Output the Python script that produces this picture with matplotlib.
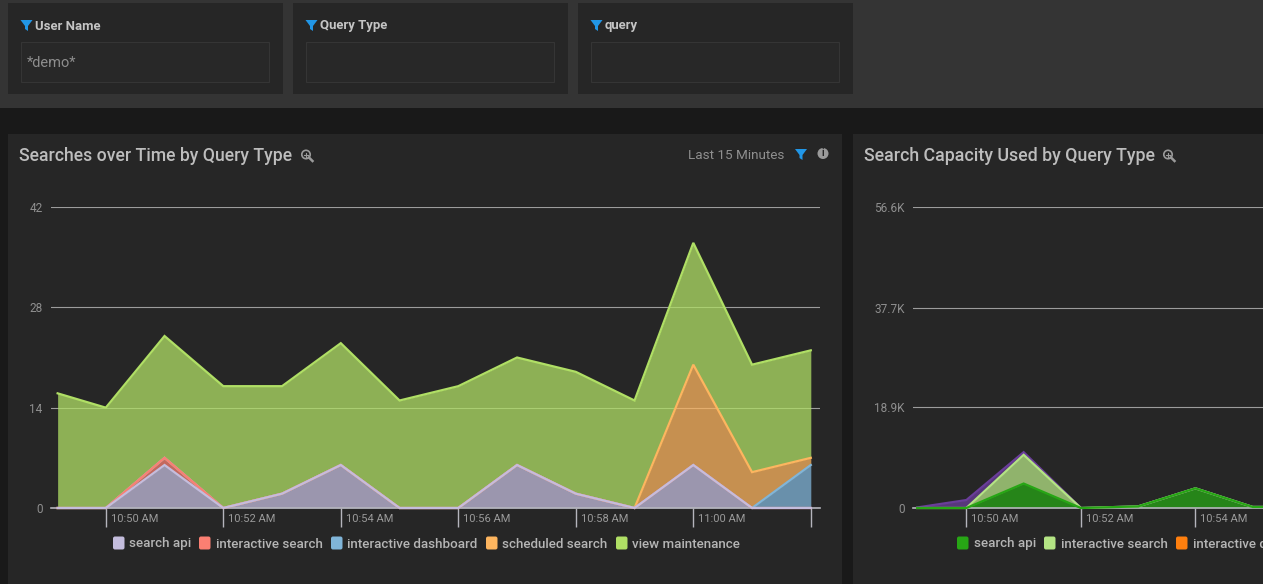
import matplotlib
matplotlib.use('Agg')
import matplotlib.pyplot as plt
from matplotlib.patches import Rectangle, FancyBboxPatch, Polygon, Circle
import numpy as np

plt.rcParams['font.family'] = ['Roboto', 'DejaVu Sans']

# minutes after 10:50
minutes = [-0.82, 0, 1, 2, 3, 4, 5, 6, 7, 8, 9, 10, 11, 12]
search_api = [0, 0, 6, 0, 2, 6, 0, 0, 6, 2, 0, 6, 0, 0]
interactive_search = [0, 0, 1, 0, 0, 0, 0, 0, 0, 0, 0, 0, 0, 0]
interactive_dashboard = [0, 0, 0, 0, 0, 0, 0, 0, 0, 0, 0, 0, 0, 6]
scheduled_search = [0, 0, 0, 0, 0, 0, 0, 0, 0, 0, 0, 14, 5, 1]
view_maintenance = [16, 14, 17, 17, 15, 17, 15, 17, 15, 17, 15, 17, 15, 15]
left_names = ['search api', 'interactive search', 'interactive dashboard', 'scheduled search', 'view maintenance']
left_colors = ['#c4bddd', '#fb7f72', '#80b5d9', '#fdb55f', '#b0df65']
left_yticks = [0, 14, 28, 42]
left_xticks = [0, 2, 4, 6, 8, 10, 12]
left_xlabels = ['10:50 AM', '10:52 AM', '10:54 AM', '10:56 AM', '10:58 AM', '11:00 AM', '']

cap_minutes = [-0.86, 0, 1, 2, 3, 4, 5, 6]
cap_search_api = [0, 0, 4600, 0, 300, 3700, 200, 200]
cap_interactive_search = [0, 0, 5400, 0, 0, 0, 0, 0]
cap_other = [100, 1500, 500, 0, 0, 0, 0, 0]
right_names = ['search api', 'interactive search', 'interactive dashboard']
right_colors = ['#27a615', '#b4e484', '#ff7f0e', '#6a3d9a']
right_yticks = [0, 18900, 37700, 56600]
right_ylabels = ['0', '18.9K', '37.7K', '56.6K']
right_xticks = [0, 2, 4]
right_xlabels = ['10:50 AM', '10:52 AM', '10:54 AM']

W, H = 1263, 584
DARK = '#191919'
PANEL = '#262626'
BLUE = '#2196e6'

fig = plt.figure(figsize=(W / 100, H / 100), dpi=100, facecolor=DARK)
bg = fig.add_axes([0, 0, 1, 1], zorder=0)
bg.set_xlim(0, W)
bg.set_ylim(H, 0)
bg.axis('off')


def funnel(x, y, s=1.0):
    pts = [(x, y), (x + 12 * s, y), (x + 7.5 * s, y + 6 * s), (x + 7.5 * s, y + 11 * s),
           (x + 4.5 * s, y + 9 * s), (x + 4.5 * s, y + 6 * s)]
    bg.add_patch(Polygon(pts, closed=True, color=BLUE, lw=0))


def zoom_icon(x, y):
    bg.add_patch(Circle((x, y), 4.2, fill=False, ec='#9a9a9a', lw=1.2))
    bg.plot([x + 3, x + 6.5], [y + 3, y + 6.5], color='#9a9a9a', lw=1.8)
    bg.plot([x - 2, x + 2], [y, y], color='#9a9a9a', lw=0.8)
    bg.plot([x, x], [y - 2, y + 2], color='#9a9a9a', lw=0.8)


# top filter strip
bg.add_patch(Rectangle((0, 0), W, 108, color='#343434', lw=0))
for x0, label in [(8, 'User Name'), (293, 'Query Type'), (578, 'query')]:
    bg.add_patch(Rectangle((x0, 3), 275, 91, color=PANEL, lw=0))
    bg.add_patch(Rectangle((x0 + 13, 42), 248, 40, fc='#282828', ec='#353535', lw=0.8))
    funnel(x0 + 12.5, 20)
    bg.text(x0 + 27, 26, label, color='#c4c4c4', fontsize=9.45, fontweight='bold', va='center')
bg.text(27, 63, '*demo*', color='#8e8e8e', fontsize=10.5, va='center')

# chart panels
bg.add_patch(Rectangle((8, 134), 834, 450, color=PANEL, lw=0))
bg.add_patch(Rectangle((853, 134), 410, 450, color=PANEL, lw=0))
bg.text(19, 156, 'Searches over Time by Query Type', color='#bdbdbd', fontsize=12.7, fontweight='medium', va='center')
zoom_icon(306, 154.5)
bg.text(864, 156, 'Search Capacity Used by Query Type', color='#bdbdbd', fontsize=12.75, fontweight='medium', va='center')
zoom_icon(1168, 154.5)
bg.text(688, 155.5, 'Last 15 Minutes', color='#8f8f8f', fontsize=9.7, va='center')
funnel(795, 149)
bg.add_patch(Circle((823, 153.5), 5.5, color='#9a9a9a', lw=0))
bg.text(823, 153.5, 'i', color=PANEL, fontsize=7, fontweight='bold', ha='center', va='center')


def make_axes(x0, x1, px_per_min, zero_px):
    ax = fig.add_axes([x0 / W, (H - 508) / H, (x1 - x0) / W, 301 / H], zorder=1)
    ax.patch.set_alpha(0)
    ax.set_xlim((x0 - zero_px) / px_per_min, (x1 - zero_px) / px_per_min)
    for s in ['top', 'left', 'right']:
        ax.spines[s].set_visible(False)
    ax.spines['bottom'].set_color('#b5b5bd')
    ax.spines['bottom'].set_linewidth(1.2)
    ax.spines['bottom'].set_zorder(2.5)
    ax.grid(axis='y', color='#9c9c9c', lw=0.8, zorder=0)
    ax.set_axisbelow(True)
    ax.tick_params(axis='y', length=0, pad=6, labelsize=8.5, labelcolor='#8f8f8f')
    ax.tick_params(axis='x', length=13.5, width=1, color='#b5b5bd', pad=-9.5,
                   labelsize=8.0, labelcolor='#9a9a9a')
    return ax


def draw_stack(ax, x, series, colors):
    bottom = np.zeros(len(x))
    count = len(series)
    for i, (values, color) in enumerate(zip(series, colors)):
        top = bottom + np.array(values, dtype=float)
        ax.fill_between(x, bottom, top, color=color, alpha=0.75, lw=0, zorder=2)
        # lower series drawn last so their lines stay on top where others are zero
        ax.plot(x, top, color=color, lw=1.6, zorder=3 + count - i, solid_joinstyle='miter', clip_on=False)
        bottom = top


def shift_labels(ax, dx_px):
    for lab in ax.get_xticklabels():
        lab.set_ha('left')
        lab.set_transform(lab.get_transform() + matplotlib.transforms.ScaledTranslation(dx_px / 100, 0, fig.dpi_scale_trans))


def draw_legend(names, colors, swatch_x, text_x):
    for name, color, sx, tx in zip(names, colors, swatch_x, text_x):
        bg.add_patch(FancyBboxPatch((sx + 2, 538.5), 7.5, 9, boxstyle='round,pad=2', fc=color, ec='none'))
        bg.text(tx, 544, name, color='#b5b5b5', fontsize=9.6, fontweight='medium', va='center')


left = make_axes(51, 820, 58.75, 105.8)
draw_stack(left, minutes, [search_api, interactive_search, interactive_dashboard, scheduled_search, view_maintenance], left_colors)
left.set_ylim(0, 42)
left.set_yticks(left_yticks)
left.set_xticks(left_xticks)
left.set_xticklabels(left_xlabels)
shift_labels(left, 5)
draw_legend(left_names, left_colors, [113, 199, 331, 486, 616], [129, 216, 347, 502, 632])

right = make_axes(913, W, 57.25, 966.4)
draw_stack(right, cap_minutes, [cap_search_api, cap_interactive_search, cap_other], right_colors[:2] + right_colors[3:])
right.set_ylim(0, 56600)
right.set_yticks(right_yticks)
right.set_yticklabels(right_ylabels)
right.set_xticks(right_xticks)
right.set_xticklabels(right_xlabels)
shift_labels(right, 5)
draw_legend(right_names, right_colors, [957, 1044, 1176], [974, 1061, 1193])

fig.savefig('out.png', dpi=100, facecolor=fig.get_facecolor())
